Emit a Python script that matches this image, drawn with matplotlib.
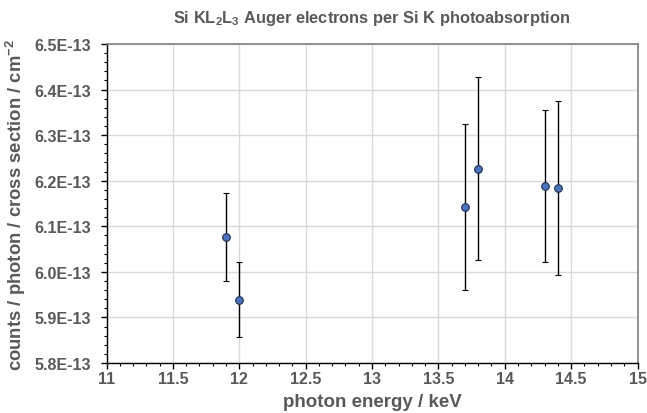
import numpy as np
import matplotlib
matplotlib.use("Agg")
import matplotlib.pyplot as plt
from matplotlib.ticker import MultipleLocator, FuncFormatter

# data
energy = [11.9, 12.0, 13.7, 13.8, 14.3, 14.4]            # keV
yield_per_xs = [6.077, 5.939, 6.142, 6.226, 6.189, 6.184]  # x 1e-13
err_lo = [0.096, 0.083, 0.181, 0.199, 0.167, 0.191]
err_hi = [0.097, 0.083, 0.182, 0.202, 0.167, 0.190]

plt.rcParams["font.family"] = "Liberation Sans"
plt.rcParams["mathtext.fontset"] = "custom"
plt.rcParams["mathtext.rm"] = "Liberation Sans:bold"
plt.rcParams["mathtext.bf"] = "Liberation Sans:bold"
plt.rcParams["mathtext.it"] = "Liberation Sans:bold"

GREY = "#595959"

fig = plt.figure(figsize=(6.47, 4.14), dpi=100)
ax = fig.add_axes([106.5 / 647, 1 - 364 / 414, (637.5 - 106.5) / 647, (364 - 45) / 414])

x = np.array(energy)
y = np.array(yield_per_xs) * 1e-13
yerr = np.array([err_lo, err_hi]) * 1e-13
ax.errorbar(x, y, yerr=yerr, fmt="o", ms=5.5, mfc="#4472C4", mec="#1f2f4f",
            mew=0.8, ecolor="black", elinewidth=1.0, capsize=2.2, capthick=1.0,
            zorder=3)

ax.set_xlim(11, 15)
ax.set_ylim(5.8e-13, 6.5e-13)
ax.xaxis.set_major_locator(MultipleLocator(0.5))
ax.xaxis.set_minor_locator(MultipleLocator(0.1))
ax.yaxis.set_major_locator(MultipleLocator(0.1e-13))
ax.yaxis.set_minor_locator(MultipleLocator(0.02e-13))
ax.xaxis.set_major_formatter(FuncFormatter(lambda v, p: f"{v:g}"))
ax.yaxis.set_major_formatter(FuncFormatter(lambda v, p: f"{v * 1e13:.1f}E-13"))

ax.grid(True, which="major", color="#d9d9d9", lw=1.0, zorder=0)
ax.set_axisbelow(True)
for s in ("left", "bottom"):
    ax.spines[s].set_color("black")
    ax.spines[s].set_linewidth(1.0)
for s in ("top", "right"):
    ax.spines[s].set_color("#7f7f7f")
    ax.spines[s].set_linewidth(1.2)

ax.tick_params(which="major", direction="out", length=4, width=1.0, color="black",
               labelsize=11.5, labelcolor=GREY)
ax.tick_params(axis="y", which="major", pad=7)
ax.tick_params(axis="x", which="major", pad=2)
ax.tick_params(which="minor", direction="out", length=2.5, width=0.8, color="black")
for lab in ax.get_xticklabels() + ax.get_yticklabels():
    lab.set_fontweight("bold")

ax.set_xlabel("photon energy / keV", fontsize=13.5, fontweight="bold", color=GREY, labelpad=5)
ax.set_ylabel("counts / photon / cross section / cm$^{-2}$", fontsize=13.3,
              fontweight="bold", color=GREY, labelpad=5)
ax.set_title(r"Si KL$_\mathrm{2}$L$_\mathrm{3}$ Auger electrons per Si K photoabsorption",
             fontsize=11.8, fontweight="bold", color=GREY, pad=16)

fig.savefig("out.png", dpi=100)
